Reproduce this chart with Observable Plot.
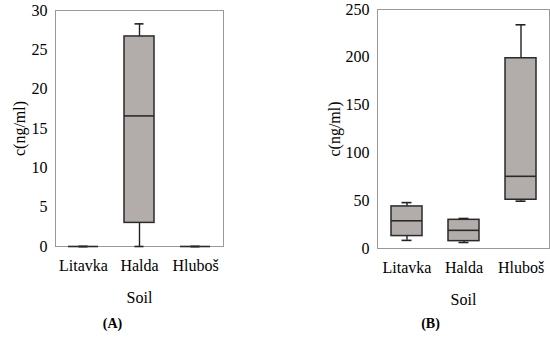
<!DOCTYPE html>
<html><head><meta charset="utf-8">
<script src="https://cdn.jsdelivr.net/npm/d3@7"></script>
<script src="https://cdn.jsdelivr.net/npm/@observablehq/plot@0.6"></script>
<style>
body{margin:0;background:#fff;}
#wrap{position:relative;width:550px;height:338px;}
#a,#b{position:absolute;top:0;}
#a{left:0}#b{left:275px}
#wrap svg, #wrap svg text{font-family:"Liberation Serif","Times New Roman",Tinos,"DejaVu Serif",serif !important;}
</style></head><body><div id="wrap"><div id="a"></div><div id="b"></div></div>
<script>
const categories = ["Litavka", "Halda", "Hluboš"];
// Panel A
const aMin = [0, 0, 0];
const aQ1 = [0, 3.0, 0];
const aMed = [0, 16.6, 0];
const aQ3 = [0, 26.7, 0];
const aMax = [0, 28.3, 0];
const aTicks = [0, 5, 10, 15, 20, 25, 30];
// Panel B
const bMin = [8.5, 6.3, 49.5];
const bQ1 = [13, 7.7, 51];
const bMed = [29, 19, 75.5];
const bQ3 = [44, 30, 199];
const bMax = [48, 31.4, 234];
const bTicks = [0, 50, 100, 150, 200, 250];

function table(mn, q1, md, q3, mx) {
  return categories.map((c, i) => ({cat: c, min: mn[i], q1: q1[i], med: md[i], q3: q3[i], max: mx[i]}));
}

function panel(data, ticks, o) {
  const boxInset = 13, capInset = 23.5;
  return Plot.plot({
    width: 275, height: 338,
    marginLeft: o.ml, marginRight: o.mr, marginTop: o.mt, marginBottom: o.mb,
    style: 'font-family:"Liberation Serif","Times New Roman",serif;font-size:16px;color:#000;background:#fff;',
    x: {domain: categories, padding: 0, type: "band"},
    y: {domain: [ticks[0], ticks[ticks.length - 1]]},
    marks: [
      Plot.frame({stroke: "#999", strokeWidth: 1}),
      Plot.axisY({ticks: ticks, tickSize: 0, tickPadding: 8, fontSize: 16, label: "c(ng/ml)", labelAnchor: "center", labelOffset: o.ylo, labelArrow: "none"}),
      Plot.axisX({tickSize: 0, tickPadding: 13, fontSize: 16, label: "Soil", labelAnchor: "center", labelOffset: o.xlo, labelArrow: "none"}),
      Plot.ruleX(data, {x: "cat", y1: "min", y2: "max", stroke: "#222", strokeWidth: 1.4}),
      Plot.tickY(data, {x: "cat", y: "max", stroke: "#222", strokeWidth: 1.6, insetLeft: capInset, insetRight: capInset}),
      Plot.tickY(data, {x: "cat", y: "min", stroke: "#222", strokeWidth: 1.6, insetLeft: capInset, insetRight: capInset}),
      Plot.barY(data, {x: "cat", y1: "q1", y2: "q3", fill: "#b2adab", stroke: "#2a2a2a", strokeWidth: 1.5, insetLeft: boxInset, insetRight: boxInset}),
      Plot.tickY(data, {x: "cat", y: "med", stroke: "#2a2a2a", strokeWidth: 1.6, insetLeft: boxInset, insetRight: boxInset}),
      Plot.text([o.caption], {text: d => d, frameAnchor: "bottom", dx: o.cdx, dy: o.cdy, fontWeight: "bold", fontSize: 14, lineAnchor: "middle"})
    ]
  });
}

document.getElementById("a").append(panel(table(aMin, aQ1, aMed, aQ3, aMax), aTicks,
  {ml: 55, mr: 52, mt: 10, mb: 92, ylo: 42, xlo: 56, caption: "(A)", cdx: -27, cdy: 77}));
document.getElementById("b").append(panel(table(bMin, bQ1, bMed, bQ3, bMax), bTicks,
  {ml: 102, mr: 1, mt: 9, mb: 90, ylo: 49, xlo: 56, caption: "(B)", cdx: -33, cdy: 75}));
</script></body></html>
